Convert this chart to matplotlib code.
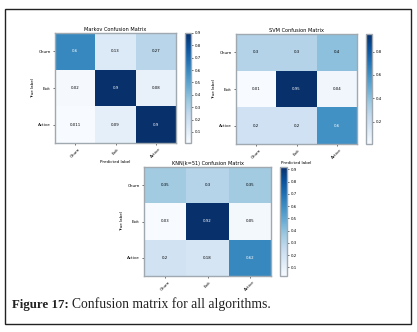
import matplotlib
matplotlib.use('Agg')
import matplotlib.pyplot as plt
import numpy as np
from matplotlib.patches import Rectangle

labels = ["Churn", "Exit", "Active"]

markov_cm = [[0.6, 0.13, 0.27],
             [0.02, 0.9, 0.08],
             [0.011, 0.09, 0.9]]
svm_cm = [[0.3, 0.3, 0.4],
          [0.01, 0.95, 0.04],
          [0.2, 0.2, 0.6]]
knn_cm = [[0.35, 0.3, 0.35],
          [0.03, 0.92, 0.05],
          [0.2, 0.18, 0.62]]

markov_ticks = [0.1, 0.2, 0.3, 0.4, 0.5, 0.6, 0.7, 0.8, 0.9]
svm_ticks = [0.2, 0.4, 0.6, 0.8]
knn_ticks = [0.1, 0.2, 0.3, 0.4, 0.5, 0.6, 0.7, 0.8, 0.9]

W, H = 417, 332
fig = plt.figure(figsize=(W / 100, H / 100), dpi=100)


def px(x0, y0, x1, y1):
    # pixel box (top-left origin) -> figure fraction rect
    return [x0 / W, 1 - y1 / H, (x1 - x0) / W, (y1 - y0) / H]


def draw_cm(box, cbox, cm, title, ticks, xlabel=True):
    cm = np.array(cm)
    ax = fig.add_axes(px(*box))
    im = ax.imshow(cm, cmap='Blues', aspect='auto', interpolation='nearest')
    ax.set_title(title, fontsize=3.6, pad=1.5)
    ax.set_xticks(range(3))
    ax.set_yticks(range(3))
    ax.set_xticklabels(labels, rotation=45, fontsize=3)
    ax.set_yticklabels(labels, fontsize=3)
    ax.tick_params(length=1.5, width=0.4, pad=1.5)
    for s in ax.spines.values():
        s.set_color('#a0a8b0')
        s.set_linewidth(1.0)
    thresh = cm.max() / 2.
    for i in range(3):
        for j in range(3):
            ax.text(j, i, format(cm[i, j], 'g'), ha='center', va='center', fontsize=2.8,
                    color='white' if cm[i, j] > thresh else 'black')
    ax.set_ylabel('True label', fontsize=3, labelpad=2)
    if xlabel:
        ax.set_xlabel('Predicted label', fontsize=3, labelpad=1)
    cax = fig.add_axes(px(*cbox))
    cb = fig.colorbar(im, cax=cax, ticks=ticks)
    cb.ax.tick_params(labelsize=2.8, length=1.5, width=0.4, pad=1)
    cb.outline.set_edgecolor('#a0a8b0')
    cb.outline.set_linewidth(1.0)


draw_cm((55, 33, 176, 143), (185, 33, 191, 143), markov_cm, 'Markov Confusion Matrix', markov_ticks)
draw_cm((236, 34, 357, 144), (366, 34, 372, 144), svm_cm, 'SVM Confusion Matrix', svm_ticks)
draw_cm((144, 167, 271, 276), (280, 167, 287, 276), knn_cm, 'KNN(k=51) Confusion Matrix', knn_ticks, xlabel=False)

#outer frame
fig.patches.append(Rectangle((5 / W, 1 - 324 / H), 406 / W, 315 / H, transform=fig.transFigure,
                             fill=False, edgecolor='#222222', linewidth=1.0))

fig.text(12 / W, 1 - 308 / H, 'Figure 17:', fontsize=9.3, fontweight='bold', family='Liberation Serif',
         color='#222222')
fig.text(72 / W, 1 - 308 / H, 'Confusion matrix for all algorithms.', fontsize=9.8,
         family='Liberation Serif', color='#222222')

fig.savefig('out.png', dpi=100)
